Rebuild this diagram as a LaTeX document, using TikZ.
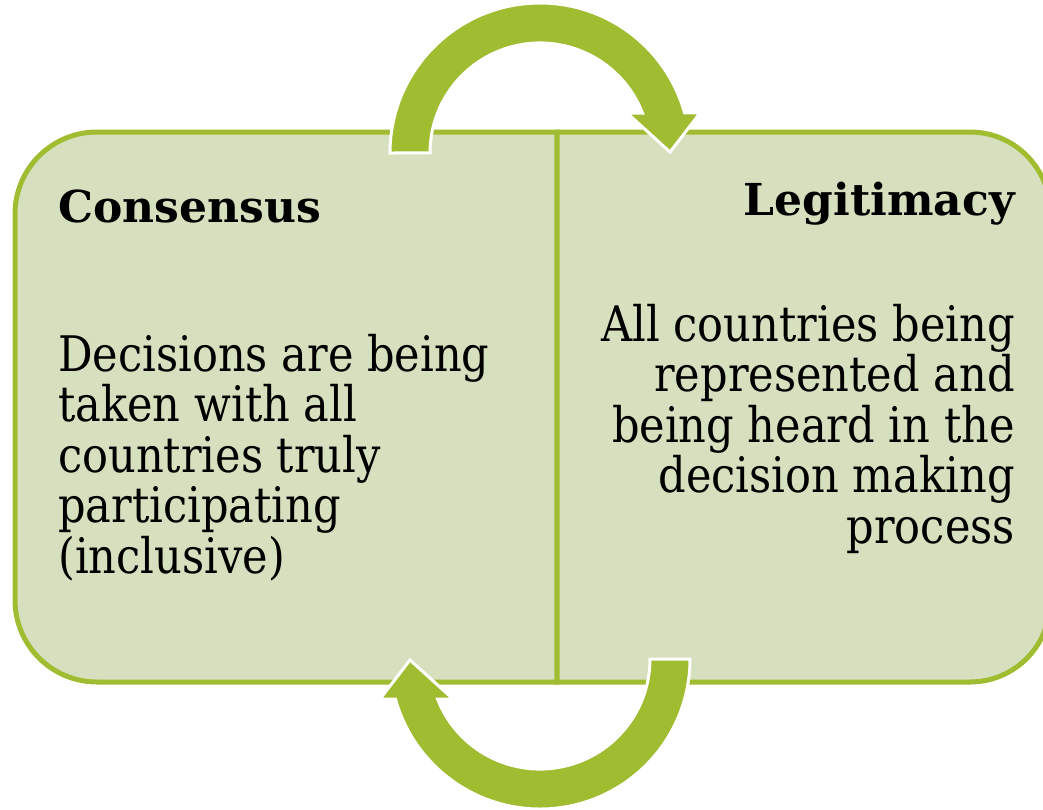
\documentclass[tikz,border=0pt]{standalone}
\usepackage{fontspec}
\setmainfont{DejaVu Serif}[FakeStretch=0.88,BoldFeatures={FakeStretch=1.0}]
\usetikzlibrary{positioning}
\definecolor{leaf}{HTML}{A0BC30}
\definecolor{pale}{HTML}{D7E0BE}

\begin{document}
\begin{tikzpicture}[x=1pt,y=1pt,
    panel/.style={fill=pale,draw=leaf,line width=5pt},
    head/.style={inner sep=0pt,font=\fontsize{44}{50}\selectfont\bfseries},
    body/.style={inner sep=0pt,font=\fontsize{49}{50.5}\selectfont},
    loop arrow/.pic={
      \filldraw[fill=leaf,draw=white,line width=3pt]
        (-150,0) arc[start angle=180,end angle=15.5,radius=150pt]
        -- (160,40) -- (130,1) -- (87,40) -- (102.5,40)
        arc[start angle=21.3,end angle=180,radius=110pt] -- cycle;}]
  \useasboundingbox (0,0) rectangle (1043,-809);

  \draw[panel] (557,-132) -- (97,-132) arc[start angle=90,end angle=180,radius=82pt]
    -- (15,-600) arc[start angle=180,end angle=270,radius=82pt] -- (557,-682) -- cycle;
  \draw[panel] (557,-132) -- (970,-132) arc[start angle=90,end angle=0,radius=80pt]
    -- (1050,-602) arc[start angle=0,end angle=-90,radius=80pt] -- (557,-682) -- cycle;

  \pic at (540,-153) {loop arrow};
  \pic[rotate=180] at (540,-659) {loop arrow};

  \node[head,anchor=base west] (cons) at (58,-222) {Consensus};
  \node[head,anchor=base east] (legit) at (1015,-215) {Legitimacy};
  % base of a multi-line node is its last line
  \node[body,align=left,below=351pt of cons.base west,anchor=base west] (consText)
    {Decisions are being\\taken with all\\countries truly\\participating\\(inclusive)};
  \node[body,align=right,below=328pt of legit.base east,anchor=base east] (legitText)
    {All countries being\\represented and\\being heard in the\\decision making\\process};
\end{tikzpicture}
\end{document}
